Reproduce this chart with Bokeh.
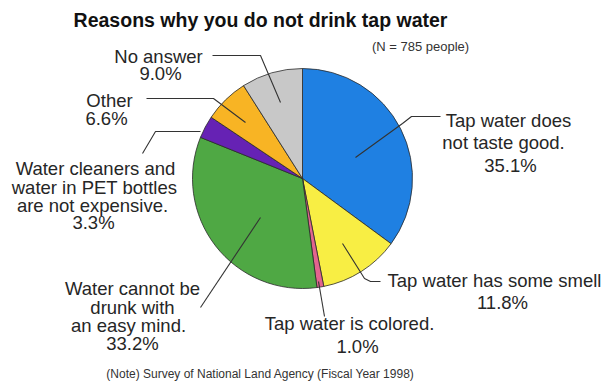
from bokeh.plotting import figure
from bokeh.models import ColumnDataSource, Range1d
from bokeh.core.properties import value
from bokeh.embed import file_html
from bokeh.resources import INLINE
import math

# ---- data ----
categories = [
    "Tap water does not taste good.",
    "Tap water has some smell",
    "Tap water is colored.",
    "Water cannot be drunk with an easy mind.",
    "Water cleaners and water in PET bottles are not expensive.",
    "Other",
    "No answer",
]
shares = [35.1, 11.8, 1.0, 33.2, 3.3, 6.6, 9.0]
slice_colors = ["#1f80e2", "#f8ee44", "#e2648e", "#4fa844", "#6622b4", "#f8b424", "#c8c8c8"]

title_text = "Reasons why you do not drink tap water"
sample_text = "(N = 785 people)"
note_text = "(Note) Survey of National Land Agency (Fiscal Year 1998)"

# label text lines for each category (same order as categories)
label_lines = [
    ["Tap water does", "not taste good.", "35.1%"],
    ["Tap water has some smell", "11.8%"],
    ["Tap water is colored.", "1.0%"],
    ["Water cannot be", "drunk with", "an easy mind.", "33.2%"],
    ["Water cleaners and", "water in PET bottles", "are not expensive.", "3.3%"],
    ["Other", "6.6%"],
    ["No answer", "9.0%"],
]

# ---- layout (pixel coordinates of the page, y downward) ----
W, H = 606, 385
CX, CY, R = 302, 178, 110
FONT = "Liberation Sans"
FS = "18.5px"

label_pos = [
    [(508, 120), (503, 142), (510, 165)],
    [(494, 280), (502, 302)],
    [(349, 323), (357, 346)],
    [(132, 288), (132, 307), (128, 325), (132, 343)],
    [(95, 168), (94, 187), (92, 205), (93, 222)],
    [(109, 100), (106, 118)],
    [(158, 56), (160, 73)],
]
leaders = [
    [(355, 157), (402, 123), (411, 116), (440, 116)],
    [(342, 243), (364, 278), (370, 281), (380, 281)],
    [(318, 281), (324, 316)],
    [(260, 217), (200, 307)],
    [(200, 131), (155, 131), (142, 153)],
    [(245, 122), (213, 98), (146, 98)],
    [(280, 102), (260, 55), (212, 55)],
]


def Y(y):
    return H - y


p = figure(width=W, height=H, output_backend="svg", toolbar_location=None,
           x_range=Range1d(0, W), y_range=Range1d(0, H),
           x_axis_type=None, y_axis_type=None, min_border=0,
           background_fill_color="white", border_fill_color="white")
p.outline_line_color = None
p.grid.visible = False

# pie wedges from the shares
total = sum(shares)
starts, ends = [], []
cum = 0.0
for s in shares:
    starts.append(math.pi / 2 - 2 * math.pi * cum / total)
    cum += s
    ends.append(math.pi / 2 - 2 * math.pi * cum / total)

src = ColumnDataSource(dict(x=[CX] * len(shares), y=[Y(CY)] * len(shares),
                            start=starts, end=ends, color=slice_colors,
                            name=categories))
p.wedge(x="x", y="y", radius=R, start_angle="start", end_angle="end",
        direction="clock", fill_color="color", line_color="#2a2a2a",
        line_width=0.8, source=src)

# leader lines
p.multi_line(xs=[[pt[0] for pt in ln] for ln in leaders],
             ys=[[Y(pt[1]) for pt in ln] for ln in leaders],
             line_color="#333333", line_width=1.1)

# labels
tx, ty, tt = [], [], []
for lines, poss in zip(label_lines, label_pos):
    for t, (x, y) in zip(lines, poss):
        tx.append(x)
        ty.append(Y(y))
        tt.append(t)
p.text(x=tx, y=ty, text=tt, text_align="center", text_baseline="middle",
       text_font=value(FONT), text_font_size=FS, text_color="#262626")

# title, sample size, note
p.text(x=[260], y=[Y(19)], text=[title_text], text_align="center",
       text_baseline="middle", text_font=value(FONT), text_font_size="19.5px",
       text_font_style="bold", text_color="#111111")
p.text(x=[420], y=[Y(46)], text=[sample_text], text_align="center",
       text_baseline="middle", text_font=value(FONT), text_font_size="13px",
       text_color="#333333")
p.text(x=[260], y=[Y(373)], text=[note_text], text_align="center",
       text_baseline="middle", text_font=value(FONT), text_font_size="12px",
       text_color="#333333")

open("out.html", "w").write(file_html(p, INLINE))
